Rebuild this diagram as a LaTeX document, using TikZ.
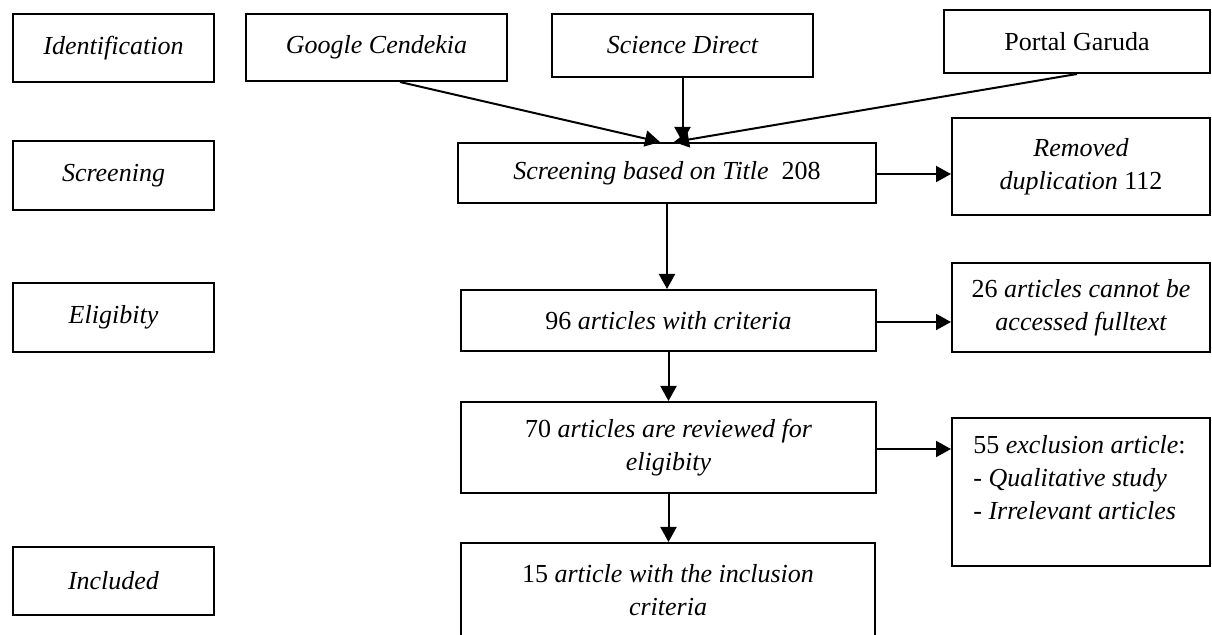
\documentclass[tikz,border=0pt]{standalone}
\usepackage{fontspec}
\setmainfont{Liberation Serif}
\usetikzlibrary{arrows.meta,calc}
\tikzset{
  box/.style={draw, line width=1pt, rectangle, inner sep=0pt, align=center,
    font=\fontsize{13}{16.5}\selectfont},
  plain/.style={inner sep=0pt, font=\fontsize{13}{16.5}\selectfont},
  arr/.style={line width=1pt, -{Triangle[length=7.5pt,width=8pt]}},
}
\begin{document}
\begin{tikzpicture}[x=0.5pt,y=-0.5pt]
\clip (0,0) rectangle (1212,635);
% left column
\node[box, minimum width=100.5pt, minimum height=34pt] (ident) at (113.5,48) {\itshape Identification};
\node[box, minimum width=100.5pt, minimum height=34.5pt] (screenL) at (113.5,175.5) {\itshape Screening};
\node[box, minimum width=100.5pt, minimum height=34.5pt] (elig) at (113.5,317.5) {\itshape Eligibity};
\node[box, minimum width=100.5pt, minimum height=34pt] (incl) at (113.5,581) {\itshape Included};
% sources
\node[box, minimum width=130.5pt, minimum height=33.5pt] (google) at (376.5,47.5) {\itshape Google Cendekia};
\node[box, minimum width=130.5pt, minimum height=31.5pt] (sd) at (682.5,45.5) {\itshape Science Direct};
\node[box, minimum width=133pt, minimum height=31.5pt] (portal) at (1077,41.5) {Portal Garuda};
% main flow
\node[box, minimum width=209pt, minimum height=30pt] (scr) at (667,173) {\itshape Screening based on Title\/ \ \upshape 208};
\node[box, minimum width=207.5pt, minimum height=30.5pt] (n96) at (668.5,320.5) {96 \itshape articles with criteria};
\node[box, minimum width=207.5pt, minimum height=45.5pt] (n70) at (668.5,447.5) {70 \itshape articles are reviewed for\\ \itshape eligibity};
\node[box, minimum width=207pt, minimum height=67pt] (n15) at (668,610) {};
\node[plain, align=center] (t15) at (668,590) {15 \itshape article with the inclusion\\ \itshape criteria};
% right column
\node[box, minimum width=129pt, minimum height=48.5pt] (rem) at (1081,166.5) {\itshape Removed\\ \itshape duplication \upshape 112};
\node[box, minimum width=129pt, minimum height=44.5pt] (n26) at (1081,307.5) {26 \itshape articles cannot be\\ \itshape accessed fulltext};
\node[box, minimum width=129pt, minimum height=74pt] (n55) at (1081,492) {};
\node[plain, align=left, anchor=north west] (t55) at (973,435) {55 \itshape exclusion article\/\upshape :\\ - \itshape Qualitative study\\ - \itshape Irrelevant articles};
% connectors
\draw[arr] ([xshift=11.75pt]google.south) -- ([xshift=-3.5pt]scr.north);
\draw[arr] (sd.south) -- (sd.south |- scr.north);
\draw[arr] (portal.south) -- ([xshift=3.5pt]scr.north);
\draw[arr] (scr.south) -- (scr.south |- n96.north);
\draw[arr] (n96.south) -- (n96.south |- n70.north);
\draw[arr] (n70.south) -- (n70.south |- n15.north);
\draw[arr] ([yshift=-0.5pt]scr.east) -- ([yshift=-0.5pt]scr.east -| rem.west);
\draw[arr] ([yshift=-0.75pt]n96.east) -- ([yshift=-0.75pt]n96.east -| n26.west);
\draw[arr] ([yshift=-0.75pt]n70.east) -- ([yshift=-0.75pt]n70.east -| n55.west);
\end{tikzpicture}
\end{document}
